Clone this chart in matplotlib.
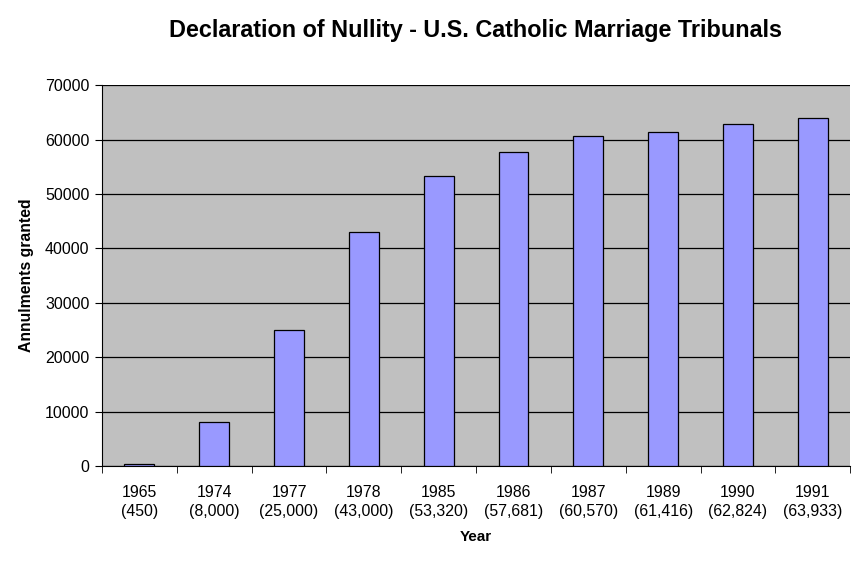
import matplotlib.pyplot as plt
import numpy as np

years = ['1965', '1974', '1977', '1978', '1985', '1986', '1987', '1989', '1990', '1991']
annulments = [450, 8000, 25000, 43000, 53320, 57681, 60570, 61416, 62824, 63933]
labels = ['%s\n(%s)' % (y, format(v, ',')) for y, v in zip(years, annulments)]

plt.rcParams['font.family'] = ['Liberation Sans', 'DejaVu Sans']

fig = plt.figure(figsize=(8.6, 5.61), dpi=100)
ax = fig.add_axes([0.1186, 0.1693, 0.870, 0.679])
ax.set_facecolor('#c0c0c0')

x = np.arange(len(years))
ax.bar(x, annulments, width=0.4, color='#9999ff', edgecolor='black', linewidth=0.9, zorder=3)

ax.set_xlim(-0.5, len(years) - 0.5)
ax.set_ylim(0, 70000)
ax.set_yticks(range(0, 70001, 10000))
ax.yaxis.grid(True, color='black', linewidth=0.9, zorder=1)
ax.set_axisbelow(True)

ax.set_xticks(x)
ax.set_xticklabels(labels, fontsize=11.4, linespacing=1.3)
ax.set_xticks(np.arange(-0.5, len(years)), minor=True)
ax.tick_params(axis='x', which='major', length=0, pad=14)
ax.tick_params(axis='x', which='minor', length=5, direction='out', color='black')
ax.tick_params(axis='y', labelsize=11.5, length=5, direction='out', pad=4)

for side in ['top', 'right']:
    ax.spines[side].set_visible(False)
ax.spines['left'].set_color('black')
ax.spines['bottom'].set_color('black')

ax.set_xlabel('Year', fontsize=11, fontweight='bold', labelpad=8)
ax.set_ylabel('Annulments granted', fontsize=11.3, fontweight='bold', labelpad=8)
fig.text(0.553, 0.945, 'Declaration of Nullity - U.S. Catholic Marriage Tribunals',
         ha='center', va='center', fontsize=16.8, fontweight='bold')

fig.savefig('out.png', dpi=100)
